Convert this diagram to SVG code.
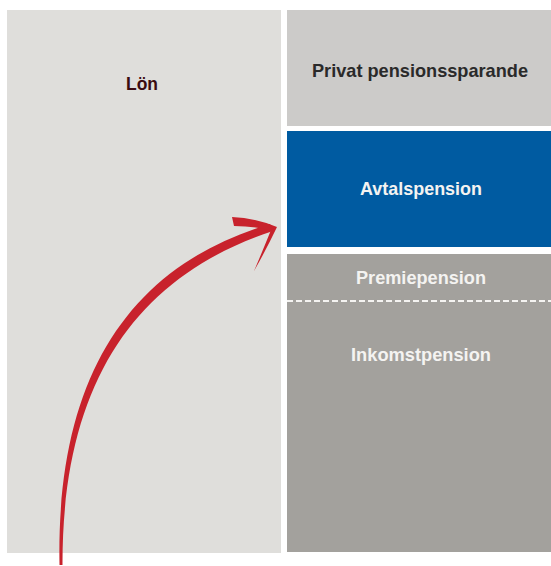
<svg xmlns="http://www.w3.org/2000/svg" width="551" height="566" viewBox="0 0 551 566">
<style>
.t{font-family:"Liberation Sans",Arial,sans-serif;font-weight:bold;font-size:19px;text-anchor:middle}
.w{fill:#f4f3f1}
</style>
<rect width="551" height="566" fill="#ffffff"/>
<g id="lon">
<rect x="7" y="10" width="274" height="543" fill="#dfdedb"/>
<text class="t" x="142" y="90" fill="#3b0b10" textLength="32" lengthAdjust="spacingAndGlyphs">Lön</text>
</g>
<g id="privat">
<rect x="287" y="10" width="264" height="116" fill="#cccbc9"/>
<text class="t" x="420" y="77" fill="#2a2a2a" font-size="18" textLength="216" lengthAdjust="spacingAndGlyphs">Privat pensionssparande</text>
</g>
<g id="avtal">
<rect x="287" y="131" width="264" height="116" fill="#005ba1"/>
<text class="t w" x="421" y="195" textLength="122" lengthAdjust="spacingAndGlyphs">Avtalspension</text>
</g>
<g id="premie">
<rect x="287" y="254" width="264" height="298" fill="#a3a19d"/>
<text class="t w" x="421" y="284" textLength="130" lengthAdjust="spacingAndGlyphs">Premiepension</text>
</g>
<g id="inkomst">
<line x1="287" y1="301" x2="551" y2="301" stroke="#f4f3f1" stroke-width="2" stroke-dasharray="6 3"/>
<text class="t w" x="421" y="361" textLength="140" lengthAdjust="spacingAndGlyphs">Inkomstpension</text>
</g>
<g id="connectors" fill="#c8222c">
<path d="M59.5,565 C56,378 128,266 270,224 L273,231 C136,276 62,382 62.5,565 Z"/>
<path d="M232,217 Q255,218 277,227 L272,231 Q255,226 234,226 Z"/>
<path d="M277,227 Q266,250 254,271 Q263,250 271,230 Z"/>
</g>
</svg>
